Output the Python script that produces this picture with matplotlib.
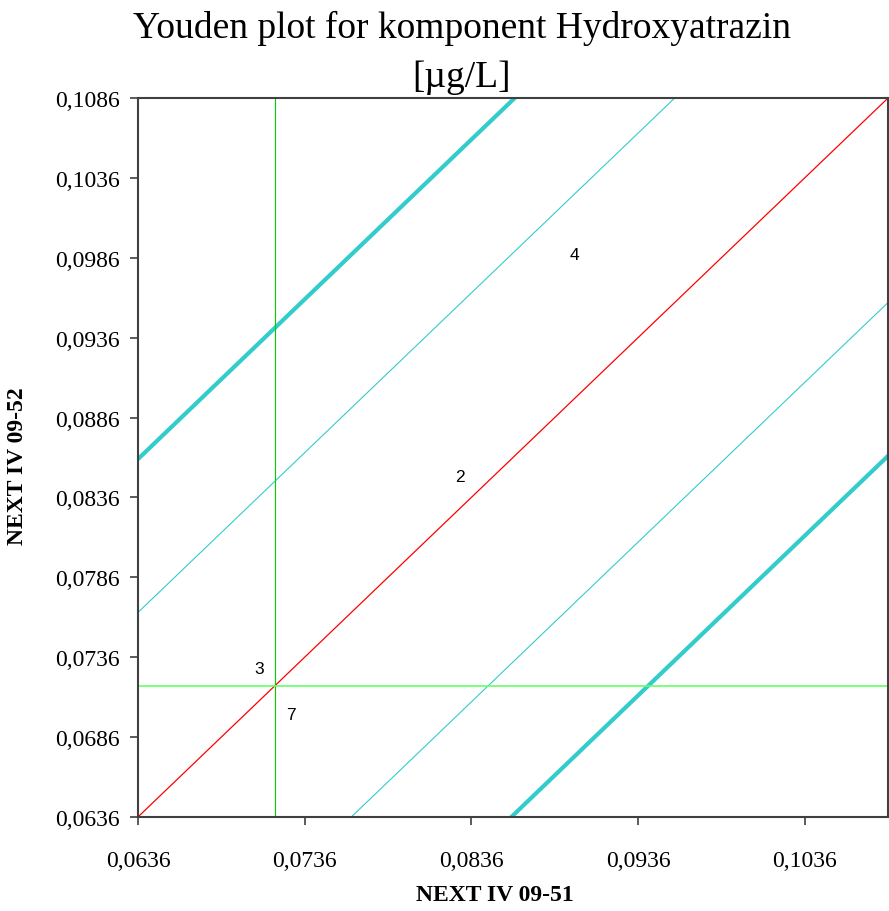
import numpy as np
import matplotlib.pyplot as plt
from matplotlib.ticker import FuncFormatter

# axis range and ticks
lo, hi = 0.0636, 0.1086
x_ticks = [0.0636, 0.0736, 0.0836, 0.0936, 0.1036]
y_ticks = [0.0636, 0.0686, 0.0736, 0.0786, 0.0836, 0.0886, 0.0936, 0.0986, 0.1036, 0.1086]

# medians and limit offsets
median_x = 0.0718
median_y = 0.0718
offsets_thin = [-0.0128, 0.0128]
offsets_thick = [-0.0224, 0.0224]

# laboratory labels
lab_ids = ["2", "3", "4", "7"]
lab_x = [0.0829, 0.0709, 0.0898, 0.0728]
lab_y = [0.0849, 0.0729, 0.0988, 0.0700]

serif = "Liberation Serif"

fig = plt.figure(figsize=(8.89, 9.12), dpi=100)
ax = fig.add_axes([0.1552, 0.1031, 0.8437, 0.7883])

xs = np.array([lo - 0.05, hi + 0.05])
base = median_y - median_x
for off in offsets_thick:
    ax.plot(xs, xs + base + off, color="#33cccc", lw=3)
for off in offsets_thin:
    ax.plot(xs, xs + base + off, color="#33cccc", lw=0.8)
ax.plot(xs, xs + base, color="#ff0000", lw=0.9)
ax.axvline(median_x, color="#00cc00", lw=0.8)
ax.axhline(median_y, color="#66ff66", lw=1.2)

for t, x, y in zip(lab_ids, lab_x, lab_y):
    ax.text(x, y, t, ha="center", va="center", fontsize=12.5, family="Liberation Sans")

ax.set_xlim(lo, hi)
ax.set_ylim(lo, hi)
ax.set_xticks(x_ticks)
ax.set_yticks(y_ticks)
fmt = FuncFormatter(lambda v, p: f"{v:.4f}".replace(".", ","))
ax.xaxis.set_major_formatter(fmt)
ax.yaxis.set_major_formatter(fmt)
ax.tick_params(direction="out", length=6, width=1.2, color="#404040", labelsize=17)
ax.tick_params(axis="x", pad=18)
ax.tick_params(axis="y", pad=7)
for lbl in ax.get_xticklabels() + ax.get_yticklabels():
    lbl.set_family(serif)
for s in ax.spines.values():
    s.set_color("#404040")
    s.set_linewidth(1.5)

ax.set_xlabel("NEXT IV 09-51", family=serif, fontsize=17, fontweight="bold")
ax.xaxis.set_label_coords(0.476, -0.093)
ax.set_ylabel("NEXT IV 09-52", family=serif, fontsize=17, fontweight="bold")
ax.yaxis.set_label_coords(-0.146, 0.49)
fig.text(462 / 889, 1 - 11 / 912, "Youden plot for komponent Hydroxyatrazin\n[µg/L]",
         family=serif, fontsize=27, ha="center", va="top", linespacing=1.55)

fig.savefig("out.png", dpi=100)
